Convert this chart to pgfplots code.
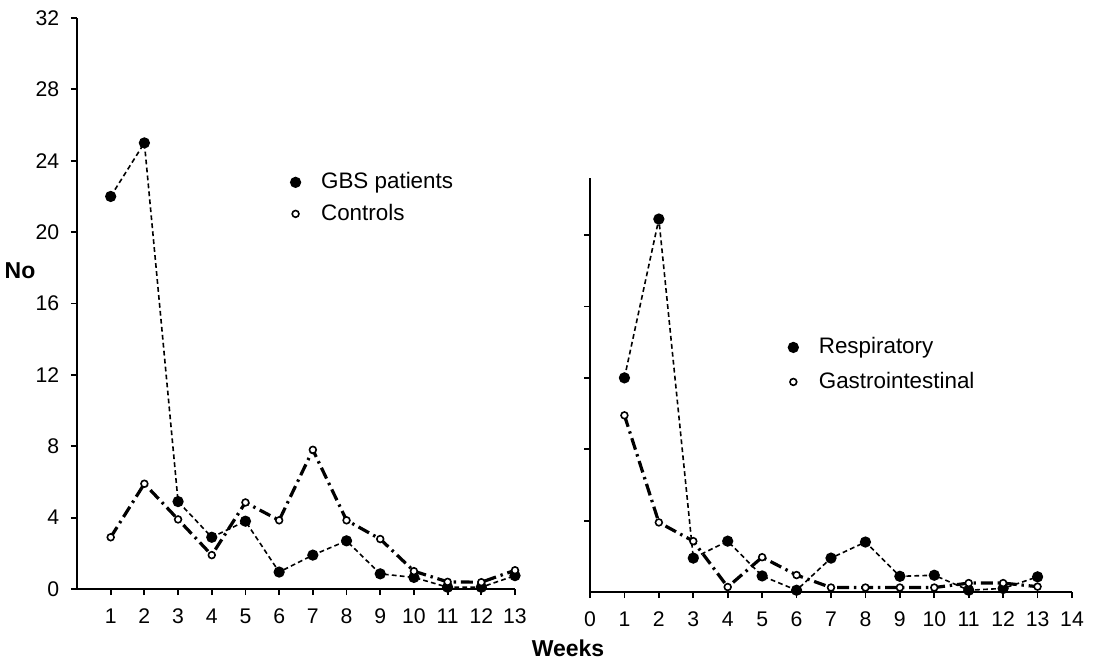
\documentclass[border=0pt]{standalone}
\usepackage{fontspec}
\setmainfont{Liberation Sans}
\usepackage{pgfplots}
\pgfplotsset{compat=1.18}
\begin{document}
\fontsize{11}{13}\selectfont
\begin{tikzpicture}
\path[use as bounding box] (0pt,0pt) rectangle (552pt,-329.5pt);
\pgfplotsset{
  common/.style={
    scale only axis, clip=false,
    axis x line=bottom, axis y line=left,
    axis line style={line width=1.4pt,-},
    tick style={line width=0.9pt,black},
    tick align=outside, major tick length=3pt,
    /pgf/number format/assume math mode=true,
    tick label style={font=\fontsize{10.6}{13}\selectfont},
    xticklabel style={yshift=-3pt},
    yticklabel style={xshift=-2pt},
    legend cell align=left,
    legend style={draw=none, fill=none, font=\fontsize{11.2}{13}\selectfont, inner sep=0pt},
    legend image code/.code={\path (-0.15cm,0) (0.35cm,0); \draw[##1,only marks] plot coordinates {(0cm,0cm)};},
  },
  pat/.style={black, line width=0.8pt, dash pattern=on 2.4pt off 1.6pt, mark=*, mark size=2.4pt, mark options={solid, fill=black}},
  ctl/.style={black, line width=1.6pt, dash pattern=on 6pt off 2.4pt on 1.2pt off 2.4pt, mark=*, mark size=1.7pt, mark options={solid, fill=white, draw=black, line width=0.8pt}},
}
% Left panel
\begin{axis}[common,
  at={(38.5pt,-294.5pt)}, anchor=origin,
  width=219pt, height=285.5pt,
  xmin=0, xmax=13, ymin=0, ymax=32,
  xtick={1,...,13}, ytick={0,4,...,32},
  ylabel={\fontsize{11.5}{13}\selectfont\bfseries No},
  every axis y label/.style={at={(rel axis cs:-0.13,0.558)}, anchor=center},
  xlabel={\fontsize{11.5}{13}\selectfont\bfseries Weeks},
  every axis x label/.style={at={(rel axis cs:1.121,-0.103)}, anchor=center},
  legend style={at={(rel axis cs:0.475,0.737)}, anchor=north west, row sep=2pt},
]
\addplot[pat] coordinates {(1,22) (2,25) (3,4.9) (4,2.9) (5,3.8) (6,0.95) (7,1.9) (8,2.7) (9,0.85) (10,0.65) (11,0.1) (12,0.1) (13,0.75)};
\addlegendentry{GBS patients}
\addplot[ctl] coordinates {(1,2.9) (2,5.9) (3,3.9) (4,1.9) (5,4.85) (6,3.85) (7,7.8) (8,3.85) (9,2.8) (10,1.0) (11,0.4) (12,0.38) (13,1.05)};
\addlegendentry{Controls}
\end{axis}
% Right panel
\begin{axis}[common,
  at={(295pt,-296pt)}, anchor=origin,
  width=241pt, height=207pt,
  xmin=0, xmax=14, ymin=0, ymax=23.2,
  xtick={0,...,14}, ytick={4,8,...,20}, yticklabels={},
  legend style={at={(rel axis cs:0.4,0.625)}, anchor=north west, row sep=3.5pt},
]
\addplot[pat] coordinates {(1,12) (2,20.9) (3,1.9) (4,2.85) (5,0.9) (6,0.1) (7,1.9) (8,2.8) (9,0.88) (10,0.94) (11,0.1) (12,0.2) (13,0.85)};
\addlegendentry{Respiratory}
\addplot[ctl] coordinates {(1,9.9) (2,3.9) (3,2.85) (4,0.28) (5,1.95) (6,0.95) (7,0.25) (8,0.25) (9,0.25) (10,0.25) (11,0.5) (12,0.5) (13,0.3)};
\addlegendentry{Gastrointestinal}
\end{axis}
\end{tikzpicture}
\end{document}
